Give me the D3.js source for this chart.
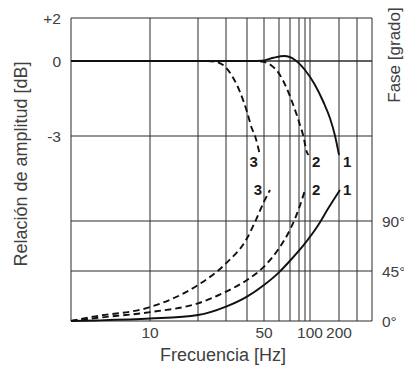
<!DOCTYPE html>
<html>
<head>
<meta charset="utf-8">
<script src="https://cdn.jsdelivr.net/npm/d3@7"></script>
<style>
  body { margin: 0; background: #fff; }
  text { font-family: "Liberation Sans", Arial, sans-serif; fill: #404040; }
</style>
</head>
<body>
<div id="vis"></div>
<script>
// gridline frequencies and labelled ticks
var freqGrid = [10, 20, 30, 40, 50, 60, 70, 80, 90, 100, 200, 300, 400];
var freqTicks = [10, 50, 100, 200];
var ampTicks = [2, 0, -3];
var ampTickLabels = ['+2', '0', '-3'];
var phaseTicks = [0, 45, 90];

// amplitude curves (Hz, dB)
var ampFreq1 = [3.2, 42, 48.5, 56, 64.6, 75.4, 90, 112.7, 137.4, 161.3, 181.8, 200];
var ampDb1   = [0, 0, 0.01, 0.15, 0.23, 0.05, -0.36, -0.96, -1.63, -2.29, -2.99, -3.76];
var ampFreq2 = [3.2, 44, 49.6, 54.9, 60.8, 66.8, 73.5, 81.6, 87, 93.3, 96.8];
var ampDb2   = [0, 0, -0.03, -0.19, -0.56, -1.09, -1.76, -2.56, -2.99, -3.63, -3.76];
var ampFreq3 = [3.2, 21, 25.6, 29.6, 33.2, 36.3, 40, 42.6, 44.4, 47.4];
var ampDb3   = [0, 0, -0.03, -0.23, -0.69, -1.23, -2.03, -2.69, -2.99, -3.76];

// phase curves (Hz, degrees)
var phFreq1 = [3.2, 4.6, 10, 20, 30, 40, 50, 60, 70.7, 90, 121.9, 154.8, 204.5];
var phDeg1  = [0, 0.5, 2.2, 5.4, 12.9, 21.9, 32.4, 43.8, 54.9, 69.9, 86.4, 101.4, 117.9];
var phFreq2 = [3.2, 4.4, 10, 20, 30, 40, 50, 60, 70.7, 80, 90];
var phDeg2  = [0, 2.4, 8, 15.9, 26.4, 36.9, 48.9, 65.4, 83.4, 101.4, 117.9];
var phFreq3 = [3.2, 4.4, 10, 20, 30, 40, 45.4, 50, 53.8];
var phDeg3  = [0, 3.9, 12.5, 32.4, 51.9, 74.4, 92.4, 107.4, 117.9];

var seriesNames = ['1', '2', '3'];

var width = 404,
    height = 369,
    plotLeft = 71,
    plotRight = 372,
    plotTop = 18,
    plotBottom = 321;

// the printed frequency axis is not an even log scale, so it is piecewise
var xScale = d3.scaleLog()
  .domain([3.2].concat(freqGrid))
  .range([71, 150, 198, 226, 247, 264, 279, 290, 299, 305, 310, 339, 357, 372]);

var ampScale = d3.scaleLinear()
  .domain([-3, 0, 2])
  .range([136, 61, plotTop]);

var phaseScale = d3.scaleLinear()
  .domain([0, 90])
  .range([plotBottom, 221]);

var svg = d3.select('#vis')
  .append('svg')
    .attr('width', width)
    .attr('height', height);

var grid = svg.append('g')
  .attr('stroke', '#2a2a2a')
  .attr('stroke-width', 1);

// vertical gridlines
grid.selectAll('line.v')
  .data([3.2].concat(freqGrid))
  .enter()
  .append('line')
    .attr('x1', function(d) { return xScale(d); })
    .attr('x2', function(d) { return xScale(d); })
    .attr('y1', plotTop)
    .attr('y2', plotBottom);

// horizontal gridlines
grid.selectAll('line.a')
  .data(ampTicks)
  .enter()
  .append('line')
    .attr('x1', plotLeft)
    .attr('x2', plotRight)
    .attr('y1', function(d) { return ampScale(d); })
    .attr('y2', function(d) { return ampScale(d); })
    .attr('stroke-width', function(d) { return d === 0 ? 1.6 : 1; });

grid.selectAll('line.p')
  .data(phaseTicks)
  .enter()
  .append('line')
    .attr('x1', plotLeft)
    .attr('x2', plotRight)
    .attr('y1', function(d) { return phaseScale(d); })
    .attr('y2', function(d) { return phaseScale(d); });

// tick labels
svg.selectAll('text.amp')
  .data(ampTicks)
  .enter()
  .append('text')
    .attr('x', 61)
    .attr('y', function(d) { return ampScale(d); })
    .attr('dy', '0.36em')
    .attr('text-anchor', 'end')
    .style('font-size', '15.5px')
    .text(function(d, i) { return ampTickLabels[i]; });

svg.selectAll('text.ph')
  .data(phaseTicks)
  .enter()
  .append('text')
    .attr('x', 382)
    .attr('y', function(d) { return phaseScale(d); })
    .attr('dy', '0.36em')
    .style('font-size', '15.5px')
    .text(function(d) { return d + '°'; });

svg.selectAll('text.fx')
  .data(freqTicks)
  .enter()
  .append('text')
    .attr('x', function(d) { return xScale(d); })
    .attr('y', 338)
    .attr('text-anchor', 'middle')
    .style('font-size', '15.5px')
    .text(function(d) { return d; });

// axis titles
svg.append('text')
  .attr('x', 223)
  .attr('y', 361)
  .attr('text-anchor', 'middle')
  .style('font-size', '18px')
  .text('Frecuencia [Hz]');

svg.append('text')
  .attr('transform', 'translate(26.5,164) rotate(-90)')
  .attr('text-anchor', 'middle')
  .style('font-size', '18px')
  .text('Relación de amplitud [dB]');

svg.append('text')
  .attr('transform', 'translate(400,55) rotate(-90)')
  .attr('text-anchor', 'middle')
  .style('font-size', '17px')
  .text('Fase [grado]');

// curves
var ampLine = d3.line()
  .x(function(d) { return xScale(d[0]); })
  .y(function(d) { return ampScale(d[1]); })
  .curve(d3.curveMonotoneX);

var phaseLine = d3.line()
  .x(function(d) { return xScale(d[0]); })
  .y(function(d) { return phaseScale(d[1]); })
  .curve(d3.curveMonotoneX);

var ampSeries = [d3.zip(ampFreq1, ampDb1), d3.zip(ampFreq2, ampDb2), d3.zip(ampFreq3, ampDb3)];
var phaseSeries = [d3.zip(phFreq1, phDeg1), d3.zip(phFreq2, phDeg2), d3.zip(phFreq3, phDeg3)];

function drawCurves(series, line, scale, labelDy, gapLeft, gapRight) {
  svg.append('g')
    .selectAll('path')
    .data(series)
    .enter()
    .append('path')
      .attr('d', line)
      .attr('fill', 'none')
      .attr('stroke', '#111')
      .attr('stroke-width', 1.9)
      .attr('stroke-dasharray', function(d, i) { return i === 0 ? null : '6.5,4'; });

  svg.append('g')
    .selectAll('text')
    .data(series)
    .enter()
    .append('text')
      .attr('x', function(d, i) {
        var last = d[d.length - 1];
        return i === 2 ? xScale(last[0]) - gapLeft : xScale(last[0]) + gapRight[i];
      })
      .attr('y', function(d) { return scale(d[d.length - 1][1]) + labelDy; })
      .attr('text-anchor', function(d, i) { return i === 2 ? 'end' : 'start'; })
      .style('font-size', '15px')
      .style('font-weight', 'bold')
      .style('fill', '#1a1a1a')
      .text(function(d, i) { return seriesNames[i]; });
}

drawCurves(ampSeries, ampLine, ampScale, 12, 2, [4, 3.5]);
drawCurves(phaseSeries, phaseLine, phaseScale, 5, 8, [3, 7]);
</script>
</body>
</html>
